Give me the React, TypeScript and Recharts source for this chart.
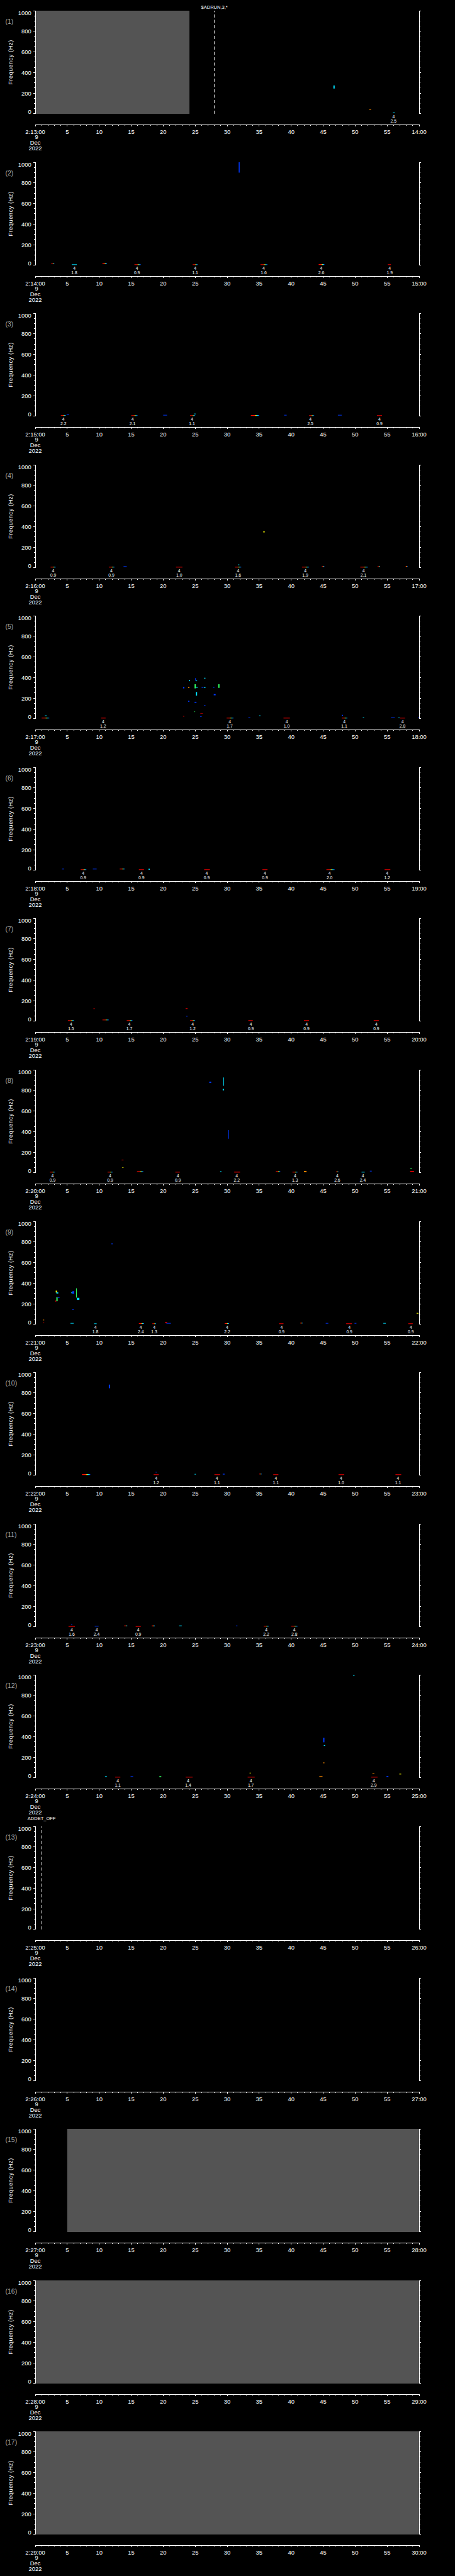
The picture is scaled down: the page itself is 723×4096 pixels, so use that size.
import React from "react";
import {
  ComposedChart,
  XAxis,
  YAxis,
  Scatter,
  ReferenceArea,
  ReferenceLine,
} from "recharts";

const FONT = '"Liberation Sans", Arial, sans-serif';

// start minute of each panel (2:MM:00, 9 Dec 2022)
const startMinutes = [13, 14, 15, 16, 17, 18, 19, 20, 21, 22, 23, 24, 25, 26, 27, 28, 29];

// event labels under the 0 Hz line: [second, value]
const events: [number, string][][] = [
  [[56.0, "2.5"]],
  [[6.1, "1.8"], [15.9, "0.9"], [25.0, "1.1"], [35.7, "1.6"], [44.7, "2.6"], [55.4, "1.9"]],
  [[4.4, "2.2"], [15.2, "2.1"], [24.5, "1.1"], [43.0, "2.5"], [53.8, "0.9"]],
  [[2.8, "0.9"], [11.9, "0.9"], [22.5, "1.0"], [31.7, "1.6"], [42.2, "1.9"], [51.3, "2.1"]],
  [[10.6, "1.2"], [30.4, "1.7"], [39.3, "1.0"], [48.3, "1.1"], [57.4, "2.8"]],
  [[7.5, "0.9"], [16.6, "0.9"], [26.8, "0.9"], [35.9, "0.9"], [46.0, "2.0"], [55.0, "1.2"]],
  [[5.6, "1.5"], [14.7, "1.7"], [24.6, "1.2"], [33.7, "0.9"], [42.4, "0.9"], [53.3, "0.9"]],
  [[2.7, "0.9"], [11.7, "0.9"], [22.3, "0.9"], [31.5, "2.2"], [40.6, "1.3"], [47.2, "2.6"], [51.2, "2.4"]],
  [[9.4, "1.8"], [16.5, "2.4"], [18.6, "1.3"], [30.0, "2.2"], [38.5, "0.9"], [49.1, "0.9"], [58.7, "0.9"]],
  [[18.9, "1.2"], [28.4, "1.1"], [37.6, "1.1"], [47.8, "1.0"], [56.7, "1.1"]],
  [[5.7, "1.6"], [9.6, "2.4"], [16.1, "0.9"], [36.1, "2.2"], [40.5, "2.8"]],
  [[12.9, "1.1"], [23.9, "1.4"], [33.7, "1.7"], [52.9, "2.9"]],
  [], [], [], [], [],
];

// spectrogram bits: [t1, t2, f1, f2, level]
type Mark = [number, number, number, number, string];
const marks: Mark[][] = [
  [[46.6, 46.8, 245, 275, "c"], [52.2, 52.5, 38, 44, "o"], [55.9, 56.2, 8, 14, "c"]],
  [
    [31.8, 31.95, 900, 1000, "b"], [2.5, 3.0, 12, 18, "g"], [5.7, 6.5, 4, 10, "c"], [10.5, 11.2, 14, 22, "g"],
    [15.5, 16.5, 4, 10, "g"], [24.6, 25.4, 4, 10, "g"], [35.2, 36.3, 4, 10, "g"], [44.3, 45.2, 4, 12, "g"],
    [55.1, 55.6, 4, 10, "r"],
  ],
  [
    [4.0, 4.8, 5, 11, "g"], [4.9, 5.3, 17, 24, "b"], [15.0, 16.0, 4, 10, "g"], [20.0, 20.6, 8, 14, "b"],
    [24.2, 25.0, 4, 10, "g"], [24.8, 25.1, 20, 26, "c"], [33.7, 35.0, 4, 12, "g"], [38.9, 39.3, 8, 14, "b"],
    [42.8, 43.6, 4, 10, "g"], [47.3, 47.9, 8, 14, "b"], [53.4, 54.2, 4, 10, "r"],
  ],
  [
    [35.6, 35.9, 345, 352, "y"], [2.4, 3.2, 4, 10, "g"], [11.5, 12.4, 4, 10, "g"], [13.8, 14.3, 10, 16, "b"],
    [22.0, 23.0, 4, 10, "r"], [31.2, 32.2, 4, 10, "g"], [31.7, 31.9, 27, 33, "c"], [41.7, 42.8, 4, 10, "g"],
    [44.8, 45.2, 10, 16, "g"], [50.8, 52.0, 4, 10, "g"], [53.5, 53.9, 10, 16, "g"], [57.9, 58.2, 12, 18, "g"],
  ],
  [
    [24.0, 24.2, 365, 375, "c"], [25.0, 25.1, 370, 395, "b"], [25.1, 25.3, 365, 372, "c"], [26.4, 26.6, 390, 398, "c"],
    [23.1, 23.3, 295, 310, "b"], [23.9, 24.1, 300, 310, "o"], [24.9, 25.1, 295, 335, "gr"], [25.1, 25.4, 302, 310, "c"],
    [26.0, 26.3, 302, 310, "b"], [26.4, 26.6, 298, 308, "c"], [27.8, 28.0, 302, 310, "b"], [28.6, 28.8, 300, 335, "gr"],
    [25.1, 25.3, 225, 260, "c"], [27.9, 28.2, 228, 240, "b"], [23.9, 24.1, 165, 175, "b"], [24.9, 25.2, 155, 165, "b"],
    [26.4, 26.6, 127, 133, "b"], [24.8, 25.0, 66, 70, "gr"], [25.8, 26.2, 48, 52, "r"], [23.1, 23.3, 22, 27, "r"],
    [25.8, 26.0, 18, 26, "b"], [1.0, 2.2, 4, 10, "g"], [1.5, 1.8, 28, 33, "c"], [10.3, 11.0, 4, 10, "r"],
    [29.9, 31.0, 4, 10, "g"], [33.3, 33.6, 10, 15, "b"], [35.0, 35.2, 28, 33, "c"], [38.8, 39.8, 4, 10, "r"],
    [47.9, 48.1, 30, 38, "b"], [47.9, 48.8, 4, 10, "g"], [51.2, 51.4, 10, 15, "c"], [55.6, 56.2, 10, 15, "b"],
    [56.7, 57.0, 8, 13, "c"], [57.0, 57.8, 4, 9, "r"], [59.8, 60, 10, 15, "b"],
  ],
  [
    [4.2, 4.5, 10, 16, "b"], [7.1, 8.0, 4, 10, "g"], [9.0, 9.6, 10, 16, "b"], [13.2, 14.0, 10, 16, "g"],
    [16.2, 17.0, 4, 10, "r"], [17.7, 17.9, 6, 16, "c"], [26.4, 27.3, 4, 10, "r"], [35.5, 36.3, 4, 10, "r"],
    [45.5, 46.8, 4, 10, "g"], [54.6, 55.5, 4, 10, "r"],
  ],
  [
    [9.1, 9.3, 120, 125, "r"], [23.5, 23.8, 120, 126, "r"], [23.6, 23.8, 46, 52, "b"], [10.5, 11.5, 10, 16, "g"],
    [5.1, 6.1, 4, 10, "g"], [14.3, 15.2, 4, 10, "g"], [24.2, 25.0, 4, 10, "g"], [33.3, 34.0, 4, 10, "r"],
    [42.0, 42.8, 4, 10, "r"], [52.9, 53.7, 4, 10, "r"],
  ],
  [
    [27.2, 27.5, 872, 885, "b"], [29.4, 29.5, 845, 925, "c"], [29.3, 29.5, 800, 815, "c"], [30.2, 30.3, 330, 415, "b"],
    [13.5, 13.8, 122, 128, "r"], [13.6, 13.8, 48, 53, "y"], [2.3, 3.1, 4, 10, "g"], [11.3, 12.1, 4, 10, "g"],
    [15.9, 16.9, 10, 16, "g"], [21.9, 22.6, 4, 10, "r"], [28.9, 29.1, 10, 16, "c"], [31.1, 32.0, 4, 12, "r"],
    [37.6, 38.3, 10, 16, "g"], [40.2, 41.0, 4, 10, "g"], [42.0, 42.4, 8, 18, "o"], [47.0, 47.4, 8, 14, "g"],
    [51.0, 51.5, 4, 10, "c"], [52.3, 52.6, 14, 20, "b"], [58.6, 59.2, 12, 18, "r"], [58.6, 58.9, 38, 44, "gr"],
  ],
  [
    [11.9, 12.1, 778, 785, "b"], [3.2, 3.4, 310, 328, "y"], [3.3, 3.6, 300, 312, "c"], [3.1, 3.3, 222, 232, "r"],
    [3.3, 3.5, 225, 265, "gr"], [3.5, 3.8, 258, 266, "b"], [5.6, 5.8, 303, 310, "c"], [5.8, 6.1, 298, 322, "b"],
    [6.4, 6.5, 260, 350, "gr"], [6.5, 6.9, 238, 258, "c"], [5.8, 6.0, 140, 146, "b"], [1.2, 1.4, 40, 46, "o"],
    [1.2, 1.4, 12, 18, "r"], [5.5, 6.0, 8, 14, "c"], [9.2, 9.6, 4, 10, "c"], [16.2, 17.0, 6, 12, "g"],
    [18.3, 18.9, 4, 10, "g"], [20.3, 20.6, 12, 22, "r"], [20.5, 21.2, 8, 14, "b"], [29.6, 30.3, 6, 12, "g"],
    [38.1, 38.8, 4, 10, "r"], [41.4, 41.8, 10, 16, "g"], [45.4, 45.8, 8, 14, "b"], [48.6, 49.5, 4, 10, "r"],
    [49.9, 50.2, 8, 14, "b"], [54.4, 54.8, 8, 14, "c"], [58.3, 59.0, 4, 10, "r"], [59.6, 59.9, 105, 112, "y"],
  ],
  [
    [11.5, 11.7, 845, 880, "b"], [7.3, 8.6, 4, 12, "g"], [18.5, 19.3, 4, 10, "r"], [18.8, 19.0, 28, 33, "b"],
    [24.9, 25.1, 8, 14, "c"], [28.0, 28.9, 4, 10, "r"], [29.3, 29.6, 8, 16, "b"], [35.0, 35.4, 10, 16, "g"],
    [37.2, 38.0, 4, 10, "r"], [47.4, 48.3, 4, 10, "r"], [56.3, 57.2, 4, 10, "r"],
  ],
  [
    [5.2, 6.2, 2, 8, "r"], [5.6, 5.8, 22, 28, "b"], [9.3, 9.9, 4, 10, "b"], [13.9, 14.4, 8, 14, "g"],
    [15.7, 16.5, 2, 8, "r"], [18.2, 18.7, 6, 14, "g"], [22.5, 22.9, 8, 14, "c"], [31.4, 31.6, 8, 14, "b"],
    [35.7, 36.5, 4, 10, "g"], [40.0, 41.0, 4, 10, "g"],
  ],
  [
    [49.7, 49.9, 990, 998, "c"], [45.0, 45.2, 345, 390, "b"], [45.1, 45.3, 310, 318, "c"], [45.0, 45.2, 142, 150, "o"],
    [10.9, 11.2, 10, 16, "c"], [12.5, 13.3, 4, 10, "r"], [14.9, 15.3, 10, 16, "b"], [19.4, 19.7, 8, 16, "gr"],
    [23.5, 24.6, 4, 10, "r"], [33.5, 33.7, 44, 50, "y"], [33.2, 34.3, 4, 10, "r"], [44.4, 44.9, 10, 16, "o"],
    [52.5, 53.5, 4, 10, "r"], [52.7, 53.0, 38, 44, "o"], [54.9, 55.2, 10, 18, "b"], [56.9, 57.2, 34, 40, "y"],
  ],
  [], [], [], [], [],
];

// no-data (grey) spans: [panel, t1, t2]
const noData: [number, number, number][] = [[1, 0, 24.1], [15, 5, 60], [16, 0, 60], [17, 0, 60]];

// command markers: [panel, second, text]
const markers: [number, number, string][] = [[1, 28, "$ADRUN,3,*"], [13, 1, "ADDET_OFF"]];
const markerLift: Record<number, number> = { 1: 3, 13: 10 };

const xTicks = Array.from({ length: 61 }, (_, i) => i);
const yTicks = Array.from({ length: 21 }, (_, i) => i * 50);

const levelColor: Record<string, string> = {
  r: "#ff0000",
  o: "#ff8c00",
  y: "#ffff00",
  gr: "#30ff60",
  c: "#00e0ff",
  b: "#0038ff",
};

const LeftTick = (props: any) => {
  const { x, y, payload } = props;
  const v = payload.value;
  const major = v % 200 === 0;
  const dy = v === 1000 ? 6.8 : v === 0 ? 0 : 3.4;
  return (
    <g>
      <line x1={x - (major ? 3 : 1.6)} x2={x} y1={y} y2={y} stroke="#fff" shapeRendering="crispEdges" />
      {major && (
        <text x={x - 6.3} y={y + dy} textAnchor="end" fill="#fff" fontSize={9.4} fontFamily={FONT}>
          {v}
        </text>
      )}
    </g>
  );
};

const RightTick = (props: any) => {
  const { x, y, payload } = props;
  const major = payload.value % 200 === 0;
  return <line x1={x} x2={x + (major ? 3 : 1.6)} y1={y} y2={y} stroke="#fff" shapeRendering="crispEdges" />;
};

const BottomTick = (props: any) => {
  const { x, y, payload, min } = props;
  const v = payload.value;
  const major = v % 5 === 0;
  const label = v === 0 ? `2:${min}:00` : v === 60 ? `${min + 1}:00` : String(v);
  const txt = { fill: "#fff", fontSize: 9.4, fontFamily: FONT, textAnchor: "middle" as const };
  return (
    <g>
      <line x1={x} x2={x} y1={y} y2={y + (major ? 3 : 1.6)} stroke="#fff" shapeRendering="crispEdges" />
      {major && <text x={x} y={y + 15.2} {...txt}>{label}</text>}
      {v === 0 && (
        <>
          <text x={x + 2} y={y + 23} {...txt}>9</text>
          <text x={x} y={y + 32.4} {...txt}>Dec</text>
          <text x={x} y={y + 41.2} {...txt}>2022</text>
        </>
      )}
    </g>
  );
};

const EventLabel = (props: any) => {
  const { cx, cy, payload } = props;
  if (cx == null || cy == null) return null;
  return (
    <g fill="#fff" fontSize={6.8} fontFamily={FONT} textAnchor="middle">
      <text x={cx} y={cy + 7}>4</text>
      <text x={cx} y={cy + 13.8}>{payload.v}</text>
    </g>
  );
};

const Panel = ({ idx }: { idx: number }) => {
  const n = idx + 1;
  const min = startMinutes[idx];
  const ev = events[idx].map(([t, v]) => ({ t, f: 0, v }));
  const grey = noData.filter((d) => d[0] === n);
  const mk = markers.filter((m) => m[0] === n);
  const gid = `spec${n}`;
  return (
    <ComposedChart width={723} height={241} margin={{ top: 17, right: 56, bottom: 42, left: 55 }}>
      <defs>
        <linearGradient id={gid} x1="0" y1="0" x2="1" y2="0">
          <stop offset="0" stopColor="#ff0000" />
          <stop offset="0.45" stopColor="#ff2000" />
          <stop offset="0.6" stopColor="#ffff00" />
          <stop offset="0.75" stopColor="#00ffff" />
          <stop offset="1" stopColor="#0040ff" />
        </linearGradient>
      </defs>
      <XAxis
        dataKey="t"
        type="number"
        domain={[0, 60]}
        ticks={xTicks}
        interval={0}
        height={1}
        tickSize={0}
        tickMargin={0}
        tickLine={false}
        axisLine={{ stroke: "#fff", shapeRendering: "crispEdges" }}
        tick={(p: any) => <BottomTick {...p} min={min} />}
        allowDataOverflow
      />
      <YAxis
        yAxisId="l"
        dataKey="f"
        type="number"
        domain={[-104, 1000]}
        ticks={yTicks}
        interval={0}
        width={1}
        tickSize={0}
        tickMargin={0}
        tickLine={false}
        axisLine={false}
        tick={LeftTick}
        allowDataOverflow
      />
      <YAxis
        yAxisId="r"
        orientation="right"
        type="number"
        domain={[-104, 1000]}
        ticks={yTicks}
        interval={0}
        width={1}
        tickSize={0}
        tickMargin={0}
        tickLine={false}
        axisLine={false}
        tick={RightTick}
        allowDataOverflow
      />
      {grey.map(([, a, b], i) => (
        <ReferenceArea key={`g${i}`} yAxisId="l" x1={a} x2={b} y1={0} y2={1000} fill="#545454" fillOpacity={1} stroke="none" />
      ))}
      {marks[idx].map(([a, b, f1, f2, c], i) => (
        <ReferenceArea
          key={`m${i}`}
          yAxisId="l"
          x1={a}
          x2={b}
          y1={f1}
          y2={f2}
          fill={c === "g" ? `url(#${gid})` : levelColor[c]}
          fillOpacity={1}
          stroke="none"
          ifOverflow="visible"
        />
      ))}
      <ReferenceLine yAxisId="l" segment={[{ x: 0, y: 0 }, { x: 0, y: 1000 }]} stroke="#fff" shapeRendering="crispEdges" />
      <ReferenceLine yAxisId="r" segment={[{ x: 60, y: 0 }, { x: 60, y: 1000 }]} stroke="#fff" shapeRendering="crispEdges" />
      {mk.map(([, t, text], i) => (
        <ReferenceLine
          key={`k${i}`}
          yAxisId="l"
          segment={[{ x: t, y: 0 }, { x: t, y: 1000 }]}
          stroke="#dddddd"
          strokeDasharray="5 3.5"
          label={{ value: text, position: "top", offset: markerLift[n], fill: "#fff", fontSize: 7.5, fontFamily: FONT }}
        />
      ))}
      <Scatter yAxisId="l" data={ev} isAnimationActive={false} shape={EventLabel} />
      <text
        x={16.5}
        y={99}
        transform="rotate(-90 16.5 99)"
        textAnchor="middle"
        dominantBaseline="central"
        fill="#fff"
        fontSize={9.2}
        fontFamily={FONT}
        letterSpacing={0.6}
      >
        Frequency (Hz)
      </text>
      <text x={8.5} y={38} fill="#a8a8a8" fontSize={10.5} fontFamily={FONT}>
        ({n})
      </text>
    </ComposedChart>
  );
};

export default function App() {
  if (typeof document !== "undefined") {
    document.body.style.margin = "0";
    document.body.style.background = "#000";
  }
  return (
    <div style={{ position: "absolute", left: 0, top: 0, width: 723, height: 4096, background: "#000" }}>
      {startMinutes.map((_, i) => (
        <div key={i} style={{ position: "absolute", left: 0, top: Math.round(i * 240.58), width: 723, height: 241 }}>
          <Panel idx={i} />
        </div>
      ))}
    </div>
  );
}
